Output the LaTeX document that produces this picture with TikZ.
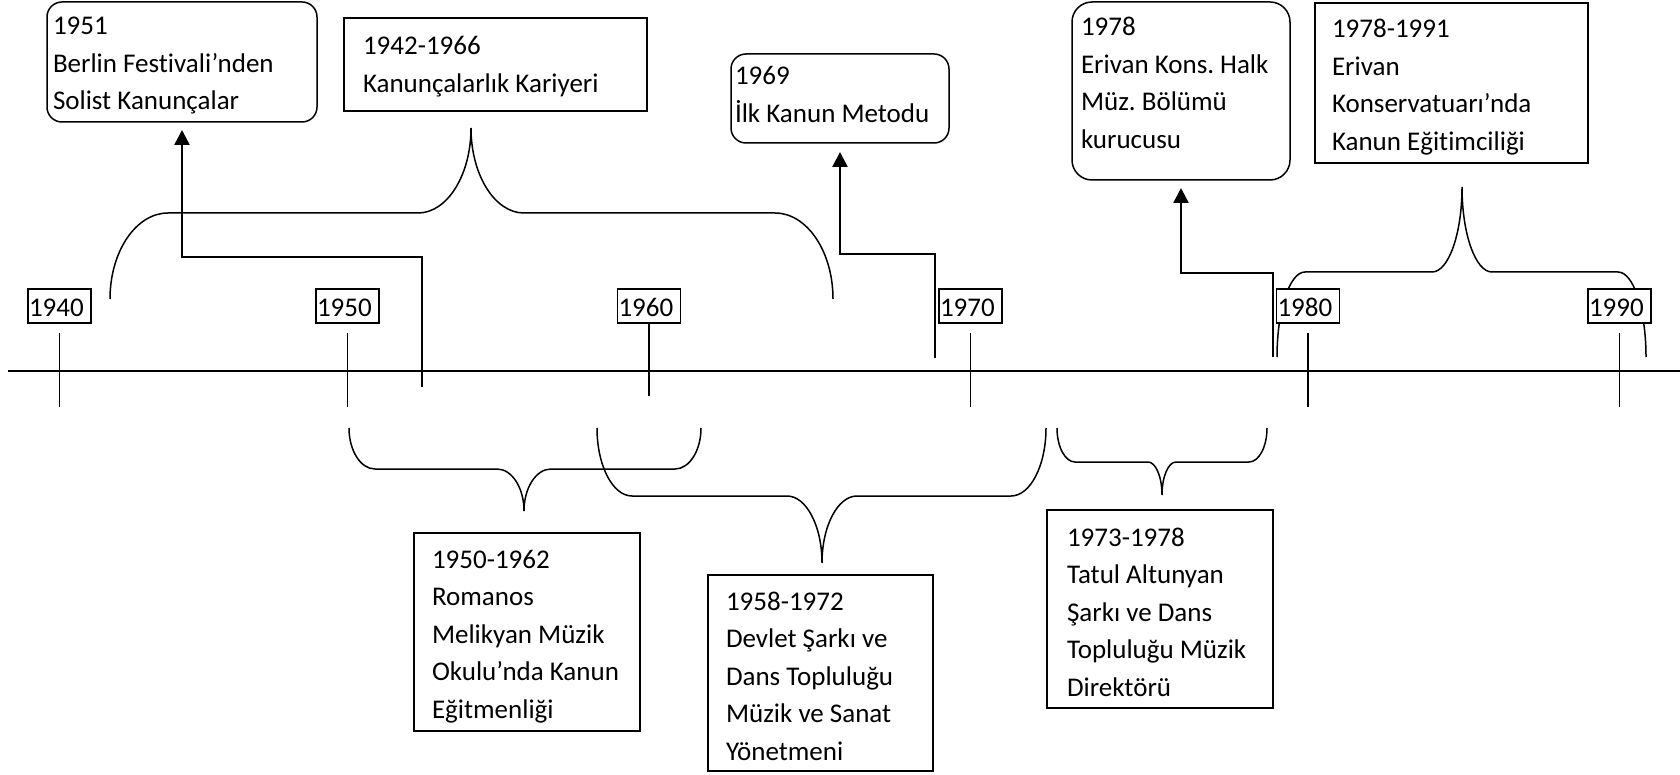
\documentclass[tikz,border=0pt]{standalone}
\usepackage{fontspec}
\setmainfont{Carlito}[Ligatures={NoCommon}]
\usetikzlibrary{arrows.meta}
\frenchspacing
\newcommand\boxtext[5]{\parbox[c][#2][t]{#1}{\frenchspacing\raggedright\setlength\leftskip{#4}\rule{0pt}{#3}#5}}
\newcommand\tlbrace[8]{% xL xR xT yEnd yHoriz yTip cornerW midW
  \draw[bracesty] (#1,#4) .. controls (#1,{#4+0.552*(#5-#4)}) and ({#1+0.448*#7},#5) .. ({#1+#7},#5)
   -- ({#3-#8},#5) .. controls ({#3-0.448*#8},#5) and (#3,{#6+0.552*(#5-#6)}) .. (#3,#6)
   .. controls (#3,{#6+0.552*(#5-#6)}) and ({#3+0.448*#8},#5) .. ({#3+#8},#5)
   -- ({#2-#7},#5) .. controls ({#2-0.448*#7},#5) and (#2,{#4+0.552*(#5-#4)}) .. (#2,#4);}
\tikzset{
  thinline/.style={line width=1.5pt},
  bracesty/.style={line width=1.5pt},
  evbox/.style={draw, line width=1.5pt, fill=white, anchor=north west},
  rbox/.style={evbox, rounded corners=15pt},
  yrbox/.style={draw, line width=1.5pt, fill=white, anchor=center},
  arr/.style={line width=2.5pt, -{Triangle[width=15pt,length=15pt]}},
}
\begin{document}
\begin{tikzpicture}[x=1pt,y=-1pt,
  every node/.style={font=\fontsize{27pt}{37.5pt}\selectfont, inner sep=0pt, outer sep=0pt}]
\useasboundingbox (0,0) rectangle (1680,775);

% braces
\tlbrace{110}{833}{471}{299}{213}{128}{58}{53}
\tlbrace{1277}{1646}{1462}{357}{272}{187}{28}{30}
\tlbrace{349}{701}{524}{428}{469}{511}{26}{27}
\tlbrace{597}{1046}{822}{428}{496}{563}{35}{35}
\tlbrace{1057}{1267}{1162}{428}{462}{495}{18}{14}

% axis
\draw[thinline] (8,371) -- (1680,371);

% year labels
\node[yrbox] (y1940) at (59.5,306) {\boxtext{63pt}{34pt}{27pt}{1pt}{1940}};
\node[yrbox] (y1950) at (347.5,306) {\boxtext{63pt}{34pt}{27pt}{1pt}{1950}};
\node[yrbox] (y1960) at (649,306) {\boxtext{63pt}{34pt}{27pt}{1pt}{1960}};
\node[yrbox] (y1970) at (970.5,306) {\boxtext{63pt}{34pt}{27pt}{1pt}{1970}};
\node[yrbox] (y1980) at (1308,306) {\boxtext{63pt}{34pt}{27pt}{1pt}{1980}};
\node[yrbox] (y1990) at (1619.5,306) {\boxtext{63pt}{34pt}{27pt}{1pt}{1990}};

% ticks
\draw[thinline] ([yshift=-10pt]y1940.south) -- ++(0,74);
\draw[thinline] ([yshift=-10pt]y1950.south) -- ++(0,74);
\draw[thinline] (y1960.south) -- ++(0,73);
\draw[thinline] ([yshift=-10pt]y1970.south) -- ++(0,74);
\draw[thinline] ([yshift=-10pt]y1980.south) -- ++(0,74);
\draw[thinline] ([yshift=-10pt]y1990.south) -- ++(0,74);

% event boxes
\node[rbox] (n1951) at (47,2) {\boxtext{270pt}{120pt}{33pt}{6pt}{1951\\Berlin Festivali’nden\\Solist Kanunçalar}};
\node[evbox] (n4266) at (344,18) {\boxtext{303pt}{93pt}{37pt}{19pt}{1942-1966\\Kanunçalarlık Kariyeri}};
\node[rbox] (n1969) at (731,54) {\boxtext{218pt}{89pt}{31pt}{4pt}{1969\\İlk Kanun Metodu}};
\node[rbox, rounded corners=20pt] (n1978) at (1072,2) {\boxtext{218pt}{178pt}{34pt}{9pt}{1978\\Erivan Kons. Halk\\Müz. Bölümü\\kurucusu}};
\node[evbox] (n7891) at (1315,3) {\boxtext{273pt}{160pt}{35pt}{17pt}{1978-1991\\Erivan\\Konservatuarı’nda\\Kanun Eğitimciliği}};
\node[evbox] (n5062) at (414,533) {\boxtext{226pt}{198pt}{35pt}{18pt}{1950-1962\\Romanos\\Melikyan Müzik\\Okulu’nda Kanun\\Eğitmenliği}};
\node[evbox] (n5872) at (708,575) {\boxtext{225pt}{196pt}{35pt}{18pt}{1958-1972\\Devlet Şarkı ve\\Dans Topluluğu\\Müzik ve Sanat\\Yönetmeni}};
\node[evbox] (n7378) at (1047,510) {\boxtext{226pt}{198pt}{36pt}{20pt}{1973-1978\\Tatul Altunyan\\Şarkı ve Dans\\Topluluğu Müzik\\Direktörü}};

% arrows
\coordinate (a1) at (422,387);
\coordinate (a2) at (935,358);
\coordinate (a3) at (1273,357);
\draw[arr, shorten >=8pt] (a1) |- ([yshift=-135pt]n1951.south) -- (n1951.south);
\draw[arr, shorten >=9pt] (a2) |- ([yshift=-111pt]n1969.south) -- (n1969.south);
\draw[arr, shorten >=8pt] (a3) |- ([yshift=-93pt]n1978.south) -- (n1978.south);
\end{tikzpicture}
\end{document}
